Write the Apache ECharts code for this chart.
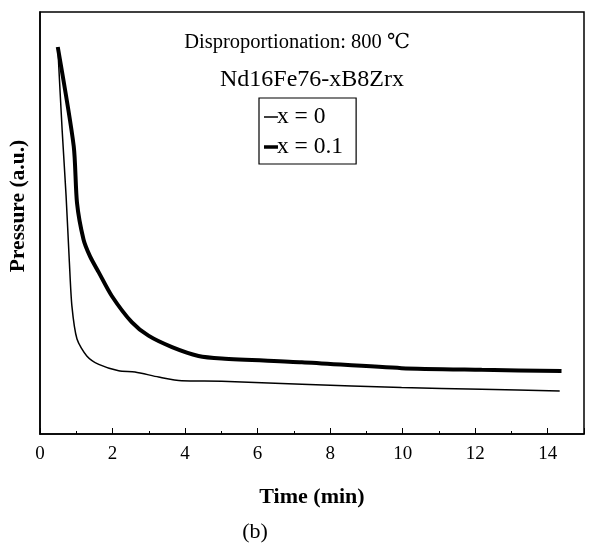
<!DOCTYPE html>
<html>
<head>
<meta charset="utf-8">
<script src="https://cdn.jsdelivr.net/npm/echarts@6/dist/echarts.min.js"></script>
<style>html,body{margin:0;padding:0;background:#fff}#c{width:595px;height:551px}</style>
</head>
<body>
<div id="c"></div>
<script>
const seriesNames = ['x = 0', 'x = 0.1'];
const timeX0 = [0.49, 0.61, 0.72, 0.81, 0.88, 1.02, 1.29, 1.62, 2.17, 2.62, 3.27, 3.91, 5.01, 7.22, 9.97, 12.18, 14.33];
const pressX0 = [91.7, 72.1, 56.3, 40.7, 30.3, 22.5, 18.5, 16.5, 15.0, 14.7, 13.5, 12.6, 12.5, 11.8, 11.0, 10.6, 10.2];
const timeX01 = [0.49, 0.93, 1.02, 1.20, 1.38, 1.62, 1.98, 2.53, 2.99, 3.64, 4.37, 5.01, 7.22, 9.97, 12.18, 14.38];
const pressX01 = [91.7, 68.2, 54.8, 46.1, 42.1, 38.3, 32.7, 26.5, 23.3, 20.6, 18.5, 17.9, 17.0, 15.6, 15.2, 14.9];
const xTicks = [0, 2, 4, 6, 8, 10, 12, 14];
const titleLine1 = 'Disproportionation: 800 ℃';
const titleLine2 = 'Nd16Fe76-xB8Zrx';
const xName = 'Time (min)';
const yName = 'Pressure (a.u.)';
const caption = '(b)';

const font = '"Liberation Serif", "DejaVu Serif", serif';
const zip = (a, b) => a.map((v, i) => [v, b[i]]);
const speck = 'M0,0h0.01v0.01h-0.01zM0,14h0.01v0.01h-0.01z';

const chart = echarts.init(document.getElementById('c'), null, {renderer: 'canvas'});
chart.setOption({
  backgroundColor: '#fff',
  animation: false,
  grid: {left: 40, top: 12, right: 11, bottom: 117, show: true, borderColor: '#000', borderWidth: 1.5, backgroundColor: 'transparent'},
  legend: {
    orient: 'vertical', left: 259, top: 98,
    data: [
      {name: seriesNames[0], icon: 'path://' + speck + 'M0,6.3h14v1.4H0z'},
      {name: seriesNames[1], icon: 'path://' + speck + 'M0,5.3h14v3.4H0z'}
    ],
    borderColor: '#000', borderWidth: 1.2,
    padding: [7, 13, 5, 5],
    itemWidth: 14, itemHeight: 14, itemGap: 6,
    textStyle: {fontFamily: font, fontSize: 23.5, lineHeight: 20, color: '#000', padding: [0, 0, 0, -6]}
  },
  xAxis: {
    type: 'value', min: 0, max: 15, interval: 2,
    name: xName, nameLocation: 'middle', nameGap: 52,
    nameTextStyle: {fontFamily: font, fontSize: 22, fontWeight: 'bold', color: '#000'},
    axisLine: {show: true, lineStyle: {color: '#000', width: 1.5}},
    axisTick: {show: true, inside: true, length: 6, lineStyle: {color: '#000', width: 1}},
    minorTick: {show: true, splitNumber: 2, length: 3, lineStyle: {color: '#000', width: 1}},
    axisLabel: {fontFamily: font, fontSize: 19, color: '#000', margin: 11,
      formatter: v => (xTicks.indexOf(v) >= 0 ? String(v) : ''), showMaxLabel: false},
    splitLine: {show: false}
  },
  yAxis: {
    type: 'value', min: 0, max: 100,
    axisLine: {show: true, lineStyle: {color: '#000', width: 1.5}},
    axisTick: {show: false}, axisLabel: {show: false}, splitLine: {show: false}
  },
  series: [
    {name: seriesNames[0], type: 'line', data: zip(timeX0, pressX0), symbol: 'none', smooth: 0.25,
     lineStyle: {color: '#000', width: 1.5}, itemStyle: {color: '#000'}},
    {name: seriesNames[1], type: 'line', data: zip(timeX01, pressX01), symbol: 'none', smooth: 0.25,
     lineStyle: {color: '#000', width: 4}, itemStyle: {color: '#000'}}
  ],
  graphic: [
    {type: 'text', x: 297, y: 43, style: {text: titleLine1, font: '20.5px ' + font, fill: '#000', textAlign: 'center', textVerticalAlign: 'middle'}},
    {type: 'text', x: 312, y: 80, style: {text: titleLine2, font: '24px ' + font, fill: '#000', textAlign: 'center', textVerticalAlign: 'middle'}},
    {type: 'text', x: 18, y: 206, rotation: Math.PI / 2, style: {text: yName, font: 'bold 21.5px ' + font, fill: '#000', textAlign: 'center', textVerticalAlign: 'middle'}},
    {type: 'text', x: 255, y: 532, style: {text: caption, font: '22px ' + font, fill: '#000', textAlign: 'center', textVerticalAlign: 'middle'}}
  ]
});
</script>
</body>
</html>
